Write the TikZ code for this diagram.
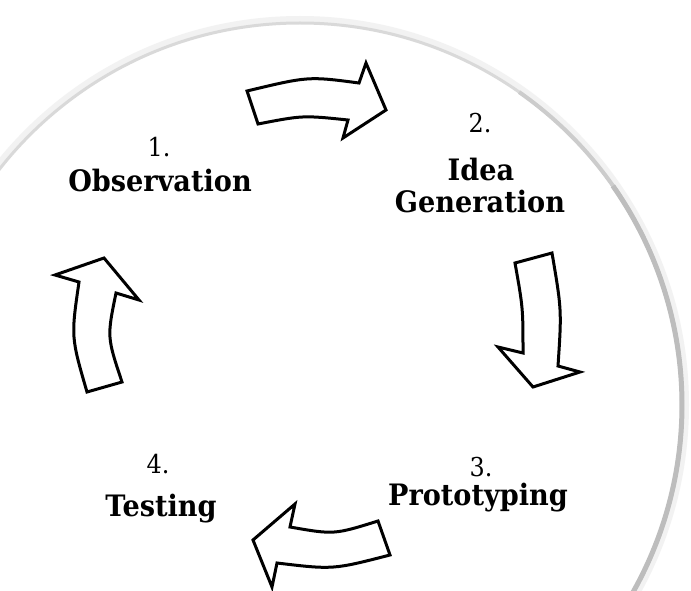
\documentclass[tikz,border=0pt]{standalone}
\usepackage{fontspec}
\setmainfont{DejaVu Serif}
\newfontfamily\labfont{DejaVu Serif}[FakeStretch=0.92]
\begin{document}
\begin{tikzpicture}[x=1pt,y=-1pt,
  blockarrow/.style={draw=black,line width=3pt,line join=miter,fill=white},
  numlabel/.style={anchor=base,inner sep=0pt,font=\labfont\fontsize{26}{30}\selectfont},
  steplabel/.style={anchor=base,inner sep=0pt,font=\labfont\fontsize{29.5}{34}\selectfont\bfseries}]
\useasboundingbox (0,0) rectangle (691,591);
\fill[white] (0,0) rectangle (691,591);
% background disc outline
\draw[black!5,line width=6pt] (300,405) circle[radius=386];
\draw[black!15,line width=3pt] (300,405) circle[radius=382];
\draw[black!20,line width=4pt] (300,405) ++(-55:382) arc[start angle=-55,end angle=65,radius=382];
\draw[black!26,line width=5pt] (300,405) ++(-35:382) arc[start angle=-35,end angle=35,radius=382];
% arrow 1 (top, pointing right)
\draw[blockarrow] (247,91) -- (258,124) .. controls (303,115.3) .. (348,120)
  -- (343,138) -- (386,110) -- (366,63) -- (359,83) .. controls (308.3,76.3) .. cycle;
% arrow 2 (right, pointing down)
\draw[blockarrow] (515,263) -- (552,253) .. controls (561.7,310) .. (558,366)
  -- (580,372) -- (533,387) -- (498,347) -- (523,353) .. controls (523,308) .. cycle;
% arrow 3 (bottom, pointing left)
\draw[blockarrow] (378,521) -- (390,555) .. controls (333,569.7) .. (277,563)
  -- (272,587) -- (253,540) -- (295,504) -- (290,527) .. controls (334,534.7) .. cycle;
% arrow 4 (left, pointing up)
\draw[blockarrow] (87,392) -- (122,382) .. controls (107,337) .. (116,293)
  -- (139,300) -- (104,258) -- (55,275) -- (79,282) .. controls (71,337) .. cycle;
% labels
\node[numlabel] (n1) at (159,157) {1.};
\node[steplabel] (s1) at (160,192) {Observation};
\node[numlabel] (n2) at (480,133) {2.};
\node[steplabel] (s2a) at (481,180) {Idea};
\node[steplabel] (s2b) at (480,212) {Generation};
\node[numlabel] (n3) at (481,476) {3.};
\node[steplabel] (s3) at (478,505) {Prototyping};
\node[numlabel] (n4) at (158,473) {4.};
\node[steplabel] (s4) at (161,516) {Testing};
\end{tikzpicture}
\end{document}
